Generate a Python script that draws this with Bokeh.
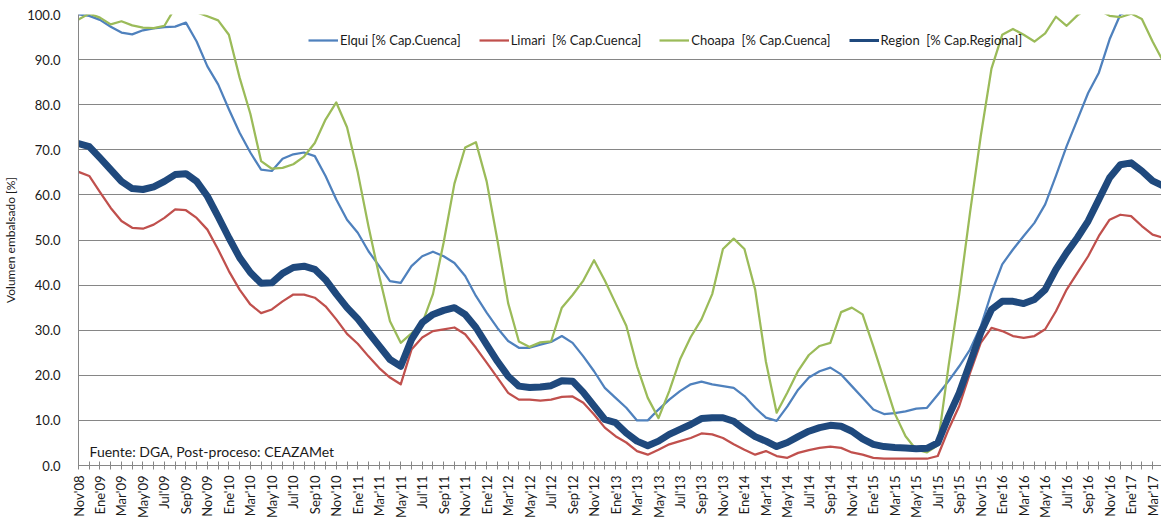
import math
from bokeh.plotting import figure
from bokeh.models import Range1d, FixedTicker, Legend, LegendItem, Label, NumeralTickFormatter
from bokeh.embed import file_html
from bokeh.resources import INLINE

# Monthly data, Nov'08 (index 0) .. Abr'17 (index 101)
tick_labels = ["Nov'08", "Ene'09", "Mar'09", "May'09", "Jul'09", "Sep'09", "Nov'09",
               "Ene'10", "Mar'10", "May'10", "Jul'10", "Sep'10", "Nov'10",
               "Ene'11", "Mar'11", "May'11", "Jul'11", "Sep'11", "Nov'11",
               "Ene'12", "Mar'12", "May'12", "Jul'12", "Sep'12", "Nov'12",
               "Ene'13", "Mar'13", "May'13", "Jul'13", "Sep'13", "Nov'13",
               "Ene'14", "Mar'14", "May'14", "Jul'14", "Sep'14", "Nov'14",
               "Ene'15", "Mar'15", "May'15", "Jul'15", "Sep'15", "Nov'15",
               "Ene'16", "Mar'16", "May'16", "Jul'16", "Sep'16", "Nov'16",
               "Ene'17", "Mar'17"]

elqui = [100.0, 99.7, 98.8, 97.3, 96.0, 95.6, 96.5, 96.9, 97.2, 97.3,
         98.2, 94.0, 88.5, 84.5, 79.0, 73.8, 69.4, 65.6, 65.3, 68.0,
         69.0, 69.4, 68.6, 64.2, 59.0, 54.5, 51.6, 47.5, 44.2, 40.9,
         40.5, 44.2, 46.4, 47.4, 46.4, 44.9, 42.0, 37.6, 33.9, 30.5,
         27.6, 26.1, 26.1, 26.8, 27.4, 28.7, 27.2, 24.2, 20.9, 17.2,
         15.0, 12.8, 10.0, 10.0, 12.4, 14.6, 16.5, 18.0, 18.6, 18.0,
         17.6, 17.2, 15.4, 12.8, 10.6, 9.9, 13.1, 16.8, 19.5, 20.9,
         21.7, 20.2, 17.6, 15.0, 12.4, 11.4, 11.6, 12.0, 12.6, 12.8,
         15.7, 18.7, 22.0, 25.7, 30.8, 38.3, 44.6, 47.9, 50.9, 53.8,
         57.9, 64.2, 70.8, 76.7, 82.6, 87.1, 94.5, 100.0, 101.0, 101.5,
         101.5, 101.5]

limari = [65.1, 64.2, 60.6, 57.1, 54.2, 52.7, 52.5, 53.4, 54.9, 56.8,
          56.6, 54.9, 52.3, 47.9, 43.1, 39.0, 35.7, 33.8, 34.6, 36.4,
          37.9, 37.9, 37.2, 35.3, 32.4, 29.2, 27.0, 24.2, 21.6, 19.5,
          18.0, 25.7, 28.4, 29.8, 30.2, 30.6, 29.1, 26.1, 22.8, 19.5,
          16.1, 14.6, 14.6, 14.4, 14.6, 15.2, 15.3, 13.9, 11.3, 8.4,
          6.5, 5.1, 3.2, 2.4, 3.5, 4.7, 5.4, 6.1, 7.1, 6.9,
          6.1, 4.7, 3.5, 2.4, 3.2, 2.1, 1.7, 2.8, 3.4, 3.9,
          4.2, 3.9, 2.9, 2.4, 1.7, 1.5, 1.5, 1.5, 1.5, 1.5,
          2.1, 8.0, 13.2, 20.5, 27.2, 30.5, 29.8, 28.7, 28.3, 28.7,
          30.2, 34.2, 39.0, 42.7, 46.4, 50.9, 54.5, 55.6, 55.3, 53.1,
          51.2, 50.5]

choapa = [98.9, 100.2, 99.3, 97.8, 98.5, 97.6, 97.1, 97.0, 97.5, 101.5,
          102.0, 100.5, 99.6, 98.7, 95.5, 86.0, 78.0, 67.5, 65.8, 66.0,
          66.8, 68.5, 71.5, 76.7, 80.5, 75.0, 65.0, 53.0, 42.0, 32.0,
          27.2, 29.3, 31.5, 38.0, 49.5, 62.5, 70.5, 71.7, 63.0, 50.0,
          36.0, 27.5, 26.3, 27.3, 27.5, 35.0, 37.8, 41.0, 45.5, 41.0,
          36.0, 31.0, 22.0, 15.0, 10.5, 16.5, 23.5, 28.5, 32.4, 38.0,
          48.0, 50.3, 48.0, 39.0, 23.0, 11.7, 16.2, 21.0, 24.5, 26.5,
          27.2, 34.0, 35.0, 33.5, 26.4, 19.0, 11.5, 6.5, 3.5, 2.9,
          4.5, 22.0, 38.0, 56.0, 73.0, 88.0, 95.5, 96.8, 95.5, 94.0,
          95.8, 99.5, 97.5, 99.8, 101.5, 101.0, 99.7, 99.4, 100.2, 99.0,
          94.0, 89.5]

region = [71.4, 70.7, 68.2, 65.6, 63.0, 61.4, 61.2, 61.8, 63.0, 64.5,
          64.7, 63.0, 59.7, 55.2, 50.5, 46.1, 42.8, 40.4, 40.5, 42.6,
          43.9, 44.2, 43.5, 41.2, 38.0, 35.0, 32.5, 29.5, 26.5, 23.5,
          22.0, 27.9, 31.7, 33.5, 34.4, 35.0, 33.5, 30.6, 26.8, 23.1,
          19.8, 17.6, 17.3, 17.4, 17.7, 18.8, 18.7, 16.2, 13.2, 10.2,
          9.5, 7.2, 5.4, 4.4, 5.4, 6.9, 8.0, 9.1, 10.4, 10.6,
          10.6, 9.8, 8.0, 6.4, 5.4, 4.2, 5.1, 6.4, 7.6, 8.4,
          8.9, 8.7, 7.6, 5.9, 4.7, 4.2, 4.0, 3.9, 3.7, 3.8,
          5.0, 10.9, 16.1, 22.7, 29.4, 34.6, 36.4, 36.4, 35.9, 36.8,
          39.0, 43.5, 47.2, 50.5, 54.2, 59.0, 63.8, 66.7, 67.1, 65.3,
          63.1, 62.0]

months = list(range(len(region)))

FONT = "Lato"
GRID = "#868686"
TXT = "#1a1a1a"

p = figure(width=1161, height=526, output_backend="svg", toolbar_location=None,
           x_range=Range1d(0, 100.83), y_range=Range1d(0, 100),
           min_border_left=74, min_border_right=0, min_border_top=14, min_border_bottom=61)
p.outline_line_color = None
p.background_fill_color = "white"

r_el = p.line(months, elqui, line_color="#4F81BD", line_width=2.25, line_join="round")
r_li = p.line(months, limari, line_color="#C0504D", line_width=2.25, line_join="round")
r_ch = p.line(months, choapa, line_color="#9BBB59", line_width=2.25, line_join="round")
r_re = p.line(months, region, line_color="#1F497D", line_width=7, line_join="round", line_cap="round")
# legend-only proxy (kept outside the visible y range)
r_re_leg = p.line([0, 1], [-50, -50], line_color="#1F497D", line_width=3)

# axes
xa = p.xaxis[0]
xa.ticker = FixedTicker(ticks=list(range(0, 101, 2)), minor_ticks=list(range(1, 101, 2)))
xa.major_label_overrides = {i * 2: lab for i, lab in enumerate(tick_labels)}
xa.major_label_orientation = math.pi / 2
xa.major_label_text_font = FONT
xa.major_label_text_font_size = "13px"
xa.major_label_text_color = TXT
xa.major_label_standoff = 6
xa.axis_line_color = GRID
xa.major_tick_line_color = GRID
xa.minor_tick_line_color = GRID
xa.major_tick_in = 4
xa.major_tick_out = 4
xa.minor_tick_in = 4
xa.minor_tick_out = 4

ya = p.yaxis[0]
ya.ticker = FixedTicker(ticks=list(range(0, 101, 10)))
ya.formatter = NumeralTickFormatter(format="0.0")
ya.major_label_text_font = FONT
ya.major_label_text_font_size = "13px"
ya.major_label_text_color = TXT
ya.major_label_standoff = 18
ya.major_tick_in = 0
ya.major_tick_out = 0
ya.minor_tick_line_color = None
ya.axis_line_color = GRID
ya.axis_label = "Volumen embalsado [%]"
ya.axis_label_text_font = FONT
ya.axis_label_text_font_size = "12px"
ya.axis_label_text_font_style = "normal"
ya.axis_label_text_color = TXT
ya.axis_label_standoff = 6

p.xgrid.grid_line_color = None
p.ygrid.grid_line_color = GRID
p.ygrid.grid_line_width = 1

legend = Legend(items=[
    LegendItem(label="Elqui [% Cap.Cuenca]", renderers=[r_el]),
    LegendItem(label="Limari  [% Cap.Cuenca]", renderers=[r_li]),
    LegendItem(label="Choapa  [% Cap.Cuenca]", renderers=[r_ch]),
    LegendItem(label="Region  [% Cap.Regional]", renderers=[r_re_leg]),
], orientation="horizontal", location=(230, 417))
legend.glyph_width = 30
legend.glyph_height = 14
legend.label_height = 14
legend.label_standoff = 2
legend.spacing = 18
legend.padding = 0
legend.margin = 0
legend.border_line_color = None
legend.background_fill_alpha = 0
legend.label_text_font = FONT
legend.label_text_font_size = "13px"
legend.label_text_color = TXT
p.add_layout(legend, "center")

src = Label(x=11, y=6, x_units="screen", y_units="screen",
            text="Fuente: DGA, Post-proceso: CEAZAMet",
            text_font=FONT, text_font_size="14px", text_color=TXT,
            text_baseline="bottom")
p.add_layout(src)

open("out.html", "w").write(file_html(p, INLINE))
